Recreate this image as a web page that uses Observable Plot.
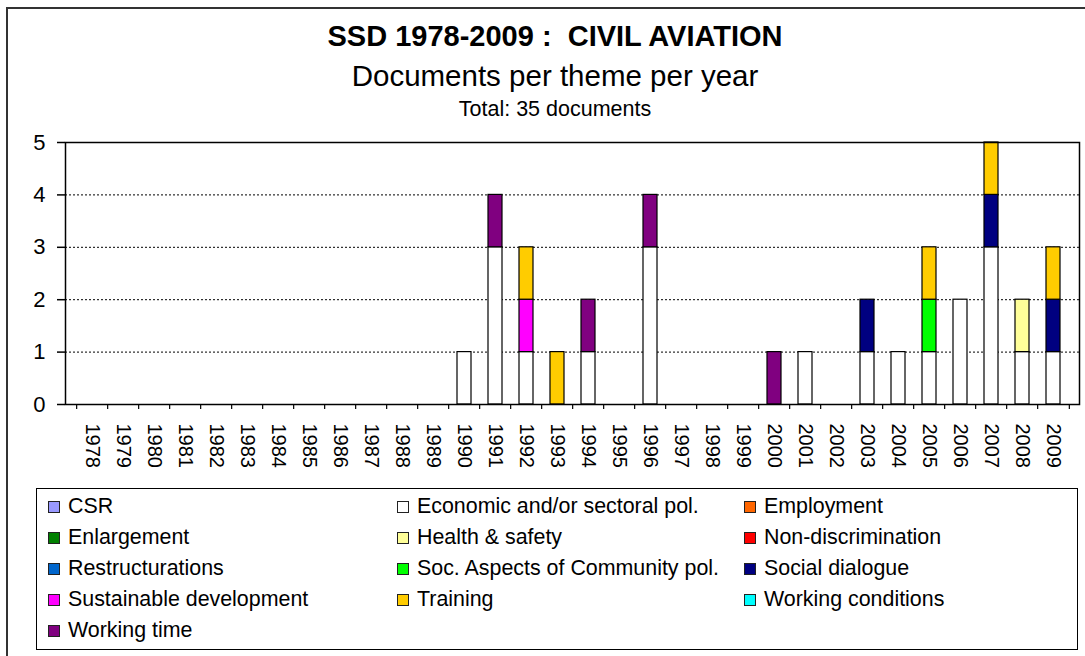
<!DOCTYPE html>
<html><head><meta charset="utf-8">
<script src="https://cdn.jsdelivr.net/npm/d3@7"></script>
<script src="https://cdn.jsdelivr.net/npm/@observablehq/plot@0.6"></script>
<style>
body{margin:0;background:#fff;font-family:"Liberation Sans",Arial,sans-serif;}
#wrap{position:relative;width:1085px;height:656px;overflow:hidden;background:#fff;}
#frame{position:absolute;left:6px;top:7px;width:1200px;height:800px;border:2px solid #333;z-index:5;pointer-events:none;}
.t{position:absolute;left:0;width:1110px;text-align:center;white-space:pre;color:#000;line-height:1;}
#chart{position:absolute;left:0;top:125px;}
#legend{position:absolute;left:36px;top:488px;width:1042px;height:162px;box-sizing:border-box;border:1px solid #000;}
.li{position:absolute;display:flex;align-items:center;font-size:21.4px;line-height:1;white-space:nowrap;color:#000;}
.sw{width:10px;height:10px;border:1px solid #222;margin-right:8px;}
</style></head>
<body>
<div id="wrap">
  <div id="frame"></div>
  <div class="t" style="top:22px;font-size:29px;font-weight:bold;">SSD 1978-2009 :  CIVIL AVIATION</div>
  <div class="t" style="top:61px;font-size:29.5px;">Documents per theme per year</div>
  <div class="t" style="top:99px;font-size:21.5px;">Total: 35 documents</div>
  <div id="chart"></div>
  <div id="legend"></div>
</div>
<script>
const years = ["1978","1979","1980","1981","1982","1983","1984","1985","1986","1987","1988","1989","1990","1991","1992","1993","1994","1995","1996","1997","1998","1999","2000","2001","2002","2003","2004","2005","2006","2007","2008","2009"];
const themes = ["CSR","Economic and/or sectoral pol.","Employment","Enlargement","Health & safety","Non-discrimination","Restructurations","Soc. Aspects of Community pol.","Social dialogue","Sustainable development","Training","Working conditions","Working time"];
const colors = ["#9999FF","#FFFFFF","#FF6600","#008000","#FFFF99","#FF0000","#0066CC","#00FF00","#000080","#FF00FF","#FFCC00","#00FFFF","#800080"];
const yTicks = [0,1,2,3,4,5];

// counts per year (1978..2009)
const csr               = [0,0,0,0,0,0,0,0,0,0,0,0,0,0,0,0,0,0,0,0,0,0,0,0,0,0,0,0,0,0,0,0];
const economic          = [0,0,0,0,0,0,0,0,0,0,0,0,1,3,1,0,1,0,3,0,0,0,0,1,0,1,1,1,2,3,1,1];
const employment        = [0,0,0,0,0,0,0,0,0,0,0,0,0,0,0,0,0,0,0,0,0,0,0,0,0,0,0,0,0,0,0,0];
const enlargement       = [0,0,0,0,0,0,0,0,0,0,0,0,0,0,0,0,0,0,0,0,0,0,0,0,0,0,0,0,0,0,0,0];
const healthSafety      = [0,0,0,0,0,0,0,0,0,0,0,0,0,0,0,0,0,0,0,0,0,0,0,0,0,0,0,0,0,0,1,0];
const nonDiscrimination = [0,0,0,0,0,0,0,0,0,0,0,0,0,0,0,0,0,0,0,0,0,0,0,0,0,0,0,0,0,0,0,0];
const restructurations  = [0,0,0,0,0,0,0,0,0,0,0,0,0,0,0,0,0,0,0,0,0,0,0,0,0,0,0,0,0,0,0,0];
const socAspects        = [0,0,0,0,0,0,0,0,0,0,0,0,0,0,0,0,0,0,0,0,0,0,0,0,0,0,0,1,0,0,0,0];
const socialDialogue    = [0,0,0,0,0,0,0,0,0,0,0,0,0,0,0,0,0,0,0,0,0,0,0,0,0,1,0,0,0,1,0,1];
const sustainableDev    = [0,0,0,0,0,0,0,0,0,0,0,0,0,0,1,0,0,0,0,0,0,0,0,0,0,0,0,0,0,0,0,0];
const training          = [0,0,0,0,0,0,0,0,0,0,0,0,0,0,1,1,0,0,0,0,0,0,0,0,0,0,0,1,0,1,0,1];
const workingConditions = [0,0,0,0,0,0,0,0,0,0,0,0,0,0,0,0,0,0,0,0,0,0,0,0,0,0,0,0,0,0,0,0];
const workingTime       = [0,0,0,0,0,0,0,0,0,0,0,0,0,1,0,0,1,0,1,0,0,0,1,0,0,0,0,0,0,0,0,0];

const series = [csr,economic,employment,enlargement,healthSafety,nonDiscrimination,restructurations,socAspects,socialDialogue,sustainableDev,training,workingConditions,workingTime];
const rows = themes.flatMap((t,i) => years.map((y,j) => ({year:y, theme:t, count:series[i][j]}))).filter(d => d.count > 0);

const W = 1085, H = 360, mL = 65, mR = 6, mT = 17, mB = 81;
const step = (W - mL - mR) / years.length;

const chart = Plot.plot({
  width: W, height: H, marginTop: mT, marginBottom: mB, marginLeft: mL, marginRight: mR,
  style: {background: "transparent", fontFamily: "Liberation Sans, Arial, sans-serif", fontSize: "22px", color: "#000"},
  x: {domain: years, paddingInner: 0.56, paddingOuter: 0.28, axis: null},
  y: {domain: [0, 5], label: null},
  color: {domain: themes, range: colors},
  marks: [
    Plot.ruleY([1,2,3,4], {stroke: "#000", strokeDasharray: "2,2", strokeWidth: 1}),
    Plot.barY(rows, {x: "year", y: "count", fill: "theme", z: "theme", order: themes, stroke: "#000", strokeWidth: 1.2}),
    Plot.frame({stroke: "#000", strokeWidth: 1.5}),
    Plot.axisY({ticks: yTicks, label: null, tickSize: 8, tickPadding: 12, fontSize: 22, tickFormat: d => String(d), stroke: "#000", strokeWidth: 1.5}),
    Plot.ruleX(years, {x: d => d, y1: 0, y2: 0, dx: -step / 2, insetBottom: -5, stroke: "#000", strokeWidth: 1.2}),
    Plot.ruleX([years[years.length - 1]], {x: d => d, y1: 0, y2: 0, dx: step / 2, insetBottom: -5, stroke: "#000", strokeWidth: 1.2}),
    Plot.text(years, {x: d => d, y: 0, dy: 19, rotate: 90, textAnchor: "start", fontSize: 20, fill: "#000"})
  ]
});
document.getElementById("chart").appendChild(chart);

// legend
const legend = document.getElementById("legend");
const colX = [11, 360, 707];
themes.forEach((t, i) => {
  const col = i % 3, row = Math.floor(i / 3);
  const el = document.createElement("div");
  el.className = "li";
  el.style.left = colX[col] + "px";
  el.style.top = (18 + row * 31 - 11) + "px";
  el.style.height = "22px";
  const sw = document.createElement("div");
  sw.className = "sw";
  sw.style.background = colors[i];
  el.appendChild(sw);
  const tx = document.createElement("span");
  tx.textContent = t;
  el.appendChild(tx);
  legend.appendChild(el);
});
</script>
</body></html>
